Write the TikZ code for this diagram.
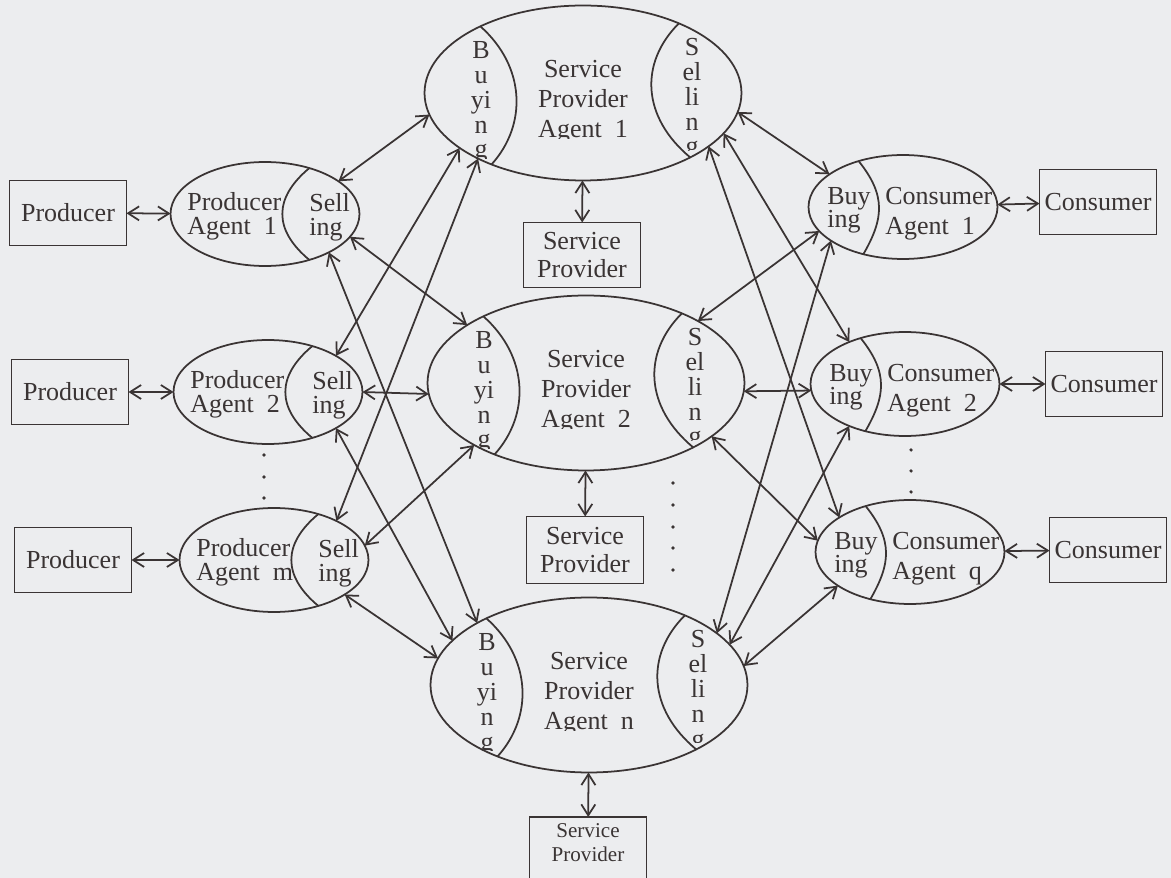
\documentclass[tikz,border=0pt]{standalone}
\usepackage{fontspec}
\setmainfont{Liberation Serif}
\usetikzlibrary{arrows.meta,shapes.geometric}

\definecolor{ink}{HTML}{3A3434}
\definecolor{paper}{HTML}{ECEDEF}

\tikzset{
  agent/.style={draw=ink, line width=1pt, ellipse, inner sep=0pt, outer sep=0pt},
  smallagent/.style={agent, minimum width=3.78cm, minimum height=2.08cm},
  bigagent/.style={agent, minimum width=6.34cm, minimum height=3.5cm},
  party/.style={draw=ink, line width=1pt, text=ink, inner sep=0pt, outer sep=0pt,
    minimum width=2.34cm, minimum height=1.3cm, align=center,
    font=\fontsize{14.8}{16}\selectfont},
  lbl/.style={text=ink, inner sep=0pt, font=\fontsize{14.8}{14.2}\selectfont},
  tall/.style={lbl, font=\fontsize{14.8}{17.1}\selectfont},
  tight/.style={lbl, font=\fontsize{14.8}{13.1}\selectfont},
  link/.style={draw=ink, line width=1pt,
    {Straight Barb[length=2.2mm,width=2.8mm]}-{Straight Barb[length=2.2mm,width=2.8mm]}},
  lens/.style={draw=ink, line width=1pt},
  gapdot/.style={fill=ink},
}

\begin{document}
\begin{tikzpicture}[x=0.02cm, y=-0.02cm]
\useasboundingbox (0,0) rectangle (1171,878);
\fill[paper] (0,0) rectangle (1171,878);

\node[party] (p1) at (68,213) {Producer};
\node[party] (p2) at (70,392) {Producer};
\node[party] (pm) at (73,560) {Producer};
\node[smallagent] (pa1) at (265,214) {};
\node[smallagent] (pa2) at (268,392) {};
\node[smallagent] (pam) at (274,560) {};

\node[bigagent] (spa1) at (583,93) {};
\node[bigagent] (spa2) at (586,383) {};
\node[bigagent] (span) at (589,685) {};
\node[party] (sp1) at (582,255) {Service\\Provider};
\node[party, minimum height=1.34cm] (sp2) at (585,550) {Service\\Provider};
\node[party, minimum height=1.6cm, anchor=north] (spn) at (588,817) {};
\node[lbl, font=\fontsize{12}{13.7}\selectfont, anchor=base, align=center] (spn-t) at (588,862) {Service\\Provider};

\node[smallagent] (ca1) at (903,207) {};
\node[smallagent] (ca2) at (905,384) {};
\node[smallagent] (caq) at (910,552) {};
\node[party] (c1) at (1098,202) {Consumer};
\node[party] (c2) at (1104,384) {Consumer};
\node[party] (cq) at (1108,550) {Consumer};

\draw[lens] (pa1.46) .. controls +(-36,30) and +(-36,-30) .. (pa1.-46);
\draw[lens] (pa2.46) .. controls +(-36,30) and +(-36,-30) .. (pa2.-46);
\draw[lens] (pam.46) .. controls +(-36,30) and +(-36,-30) .. (pam.-46);
\node[lbl, anchor=base west, align=left] (pa1-name) at ([shift={(-78,21)}]pa1.center) {Producer\\Agent~~1};
\node[lbl, anchor=base west, align=left] (pa2-name) at ([shift={(-78,21)}]pa2.center) {Producer\\Agent~~2};
\node[lbl, anchor=base west, align=left] (pam-name) at ([shift={(-78,21)}]pam.center) {Producer\\Agent~~m};
\node[lbl, anchor=base west, align=left] (pa1-sell) at ([shift={(44,22)}]pa1.center) {Sell\\ing};
\node[lbl, anchor=base west, align=left] (pa2-sell) at ([shift={(44,22)}]pa2.center) {Sell\\ing};
\node[lbl, anchor=base west, align=left] (pam-sell) at ([shift={(44,22)}]pam.center) {Sell\\ing};

\draw[lens] (spa1.147) .. controls +(45,40) and +(36,-40) .. (spa1.218);
\draw[lens] (spa1.36) .. controls +(-40,40) and +(-48,-40) .. (spa1.-31);
\draw[lens] (spa2.147) .. controls +(45,40) and +(36,-40) .. (spa2.218);
\draw[lens] (spa2.36) .. controls +(-40,40) and +(-48,-40) .. (spa2.-31);
\draw[lens] (span.147) .. controls +(45,40) and +(36,-40) .. (span.218);
\draw[lens] (span.36) .. controls +(-40,40) and +(-48,-40) .. (span.-31);

\begin{scope}[shift={(spa1.center)}]
  \clip (-125,-90) rectangle (-80,66) (-60,-90) rectangle (60,46) (90,-90) rectangle (130,58);
  \node[lbl, anchor=base, align=center] (spa1-buy) at (-102,65) {B\\u\\yi\\n\\g};
  \node[tall, anchor=base, align=center] (spa1-name) at (0,45) {Service\\Provider\\Agent~~1};
  \node[lbl, anchor=base, align=center] (spa1-sell) at (109,62) {S\\el\\li\\n\\g};
\end{scope}
\begin{scope}[shift={(spa2.center)}]
  \clip (-125,-90) rectangle (-80,66) (-60,-90) rectangle (60,46) (90,-90) rectangle (130,58);
  \node[lbl, anchor=base, align=center] (spa2-buy) at (-102,65) {B\\u\\yi\\n\\g};
  \node[tall, anchor=base, align=center] (spa2-name) at (0,45) {Service\\Provider\\Agent~~2};
  \node[lbl, anchor=base, align=center] (spa2-sell) at (109,62) {S\\el\\li\\n\\g};
\end{scope}
\begin{scope}[shift={(span.center)}]
  \clip (-125,-90) rectangle (-80,66) (-60,-90) rectangle (60,46) (90,-90) rectangle (130,58);
  \node[lbl, anchor=base, align=center] (span-buy) at (-102,65) {B\\u\\yi\\n\\g};
  \node[tall, anchor=base, align=center] (span-name) at (0,45) {Service\\Provider\\Agent~~n};
  \node[lbl, anchor=base, align=center] (span-sell) at (109,62) {S\\el\\li\\n\\g};
\end{scope}

\draw[lens] (ca1.134) .. controls +(28,35) and +(20,-35) .. (ca1.230);
\draw[lens] (ca2.134) .. controls +(28,35) and +(20,-35) .. (ca2.230);
\draw[lens] (caq.134) .. controls +(28,35) and +(20,-35) .. (caq.230);
\node[tight, anchor=base west, align=left] (ca1-buy) at ([shift={(-76,21)}]ca1.center) {Buy\\ing};
\node[tight, anchor=base west, align=left] (ca2-buy) at ([shift={(-76,21)}]ca2.center) {Buy\\ing};
\node[tight, anchor=base west, align=left] (caq-buy) at ([shift={(-76,21)}]caq.center) {Buy\\ing};
\node[tall, anchor=base west, align=left] (ca1-name) at ([shift={(-18,28)}]ca1.center) {Consumer\\Agent~~1};
\node[tall, anchor=base west, align=left] (ca2-name) at ([shift={(-18,28)}]ca2.center) {Consumer\\Agent~~2};
\node[tall, anchor=base west, align=left] (caq-name) at ([shift={(-18,28)}]caq.center) {Consumer\\Agent~~q};

\draw[link] (p1) -- (pa1);
\draw[link] (p2) -- (pa2);
\draw[link] (pm) -- (pam);
\draw[link] (ca1) -- (c1);
\draw[link] (ca2) -- (c2);
\draw[link] (caq) -- (cq);
\draw[link] (spa1) -- (sp1);
\draw[link] (spa2) -- (sp2);
\draw[link] (span) -- (spn);

\draw[link] (pa1.24) -- (spa1.188);
\draw[link] (pa1.-15) -- (spa2.154);
\draw[link] (pa1.-31) -- (span.151);
\draw[link] (pa2.28) -- (spa1.204);
\draw[link] (pa2.0) -- (spa2.184);
\draw[link] (pa2.-28) -- (span.162);
\draw[link] (pam.32) -- (spa1.212);
\draw[link] (pam.9) -- (spa2.209);
\draw[link] (pam.-26) -- (span.170);

\draw[link] (spa1.-7) -- (ca1.156);
\draw[link] (spa1.-16) -- (ca2.143);
\draw[link] (spa1.-23) -- (caq.154);
\draw[link] (spa2.29) -- (ca1.196);
\draw[link] (spa2.-3) -- (ca2.184);
\draw[link] (spa2.-23) -- (caq.173);
\draw[link] (span.22) -- (ca1.205);
\draw[link] (span.16) -- (ca2.217);
\draw[link] (span.7) -- (caq.205);

\fill[gapdot] (264,455) circle (1pt) (264,477) circle (1pt) (264,498) circle (1pt);
\fill[gapdot] (911,450) circle (1pt) (911,471) circle (1pt) (911,492) circle (1pt);
\fill[gapdot] (673,483) circle (1pt) (673,505) circle (1pt) (673,527) circle (1pt)
  (673,548) circle (1pt) (673,570) circle (1pt);
\end{tikzpicture}
\end{document}
